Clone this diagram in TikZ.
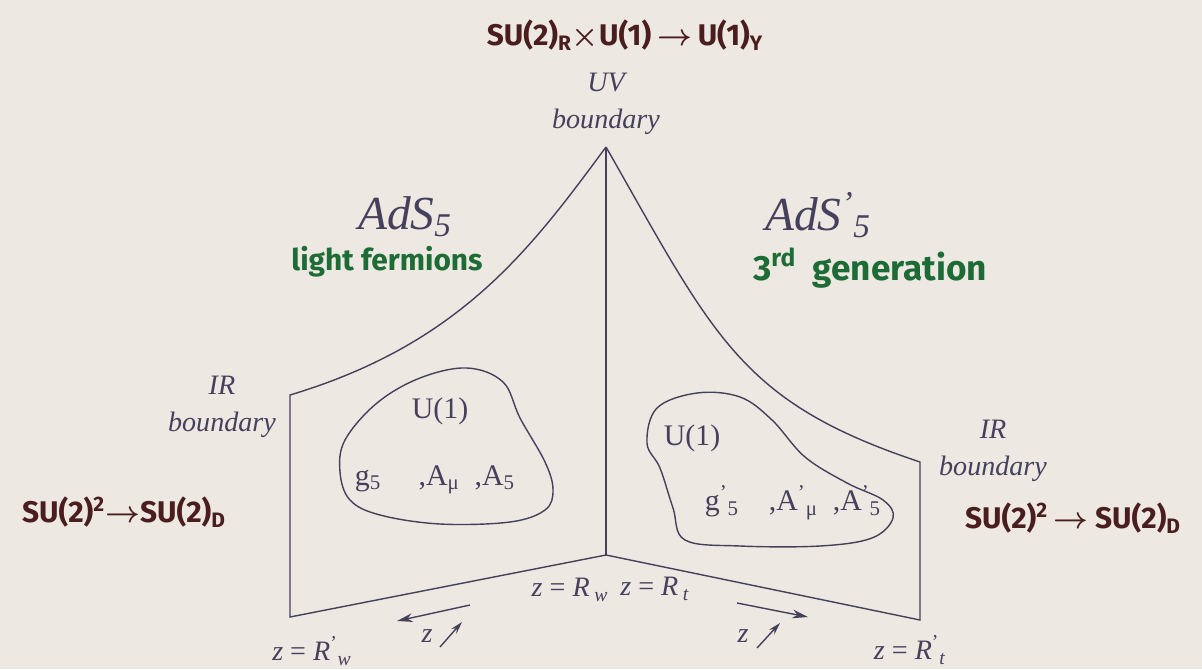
\documentclass[tikz,border=0pt]{standalone}
\usepackage{fontspec}
\setmainfont{Liberation Serif}
\newfontfamily\hand{Fira Sans}
\usetikzlibrary{arrows.meta}
\definecolor{paper}{HTML}{EEE8E2}
\definecolor{ink}{HTML}{45415C}
\definecolor{brownink}{HTML}{4A1E1E}
\definecolor{greenink}{HTML}{1D6B35}
\newcommand{\sub}[1]{\textsubscript{#1}}
\newcommand{\primesub}[1]{\textsuperscript{’}\textsubscript{#1}}
\tikzset{
  printed/.style={text=ink, inner sep=1pt, font=\fontsize{16}{18}\selectfont},
  scrawl/.style={text=brownink, inner sep=1pt, font=\hand\bfseries\boldmath\fontsize{17}{19}\selectfont},
  greenscrawl/.style={text=greenink, inner sep=1pt, font=\hand\bfseries\fontsize{16}{18}\selectfont},
}
\begin{document}
\begin{tikzpicture}[x=0.02cm, y=-0.02cm, line width=0.8pt, draw=ink]
        \useasboundingbox[fill=paper] (0,0) rectangle (1202,669);

        % Corners of the two slices
        \coordinate (uv) at (606,147);
        \coordinate (mid) at (606,555);
        \coordinate (irlt) at (290,395);
        \coordinate (irlb) at (290,617);
        \coordinate (irrt) at (920,462);
        \coordinate (irrb) at (920,620);

        % Left slice (AdS5)
        \draw[ink] (uv) .. controls (530,250) and (460,344) .. (irlt) -- (irlb) -- (mid);
        % Right slice (AdS5')
        \draw[ink] (uv) .. controls (715,338) and (740,402) .. (irrt) -- (irrb) -- (mid);
        % Shared UV line
        \draw[ink] (uv) -- (mid);

        % Blobs
        \draw[ink] plot[smooth cycle, tension=0.6] coordinates {(345,440) (377,403) (420,378) (467,368) (503,382) (520,418) (545,462) (553,490) (545,510) (510,522) (440,524) (380,515) (350,500) (340,472)};
        \draw[ink] plot[smooth cycle, tension=0.6] coordinates {(647,443) (657,408) (697,393) (740,397) (772,420) (805,457) (847,483) (883,500) (893,518) (872,538) (820,546) (740,546) (685,540) (673,508) (660,468)};

        % Boundary labels
        \node[printed, font=\itshape\fontsize{16}{18}\selectfont, align=center] (uvlab) at (606,104) {UV\\[3pt]boundary};
        \node[printed, font=\itshape\fontsize{16}{18}\selectfont, align=center] (irleft) at (222,407) {IR\\[3pt]boundary};
        \node[printed, font=\itshape\fontsize{16}{18}\selectfont, align=center] (irright) at (993,451) {IR\\[3pt]boundary};

        % Space labels
        \node[printed, font=\itshape\fontsize{27}{30}\selectfont] (adsl) at (405,217) {AdS\sub{5}};
        \node[printed, font=\itshape\fontsize{27}{30}\selectfont] (adsr) at (818,215) {AdS\primesub{5}};
        \node[greenscrawl, font=\hand\bfseries\fontsize{17}{19}\selectfont] (light) at (387,262) {light fermions};
        \node[greenscrawl, font=\hand\bfseries\fontsize{20}{22}\selectfont] (third) at (870,268) {3\textsuperscript{rd}\ \ generation};

        % Blob contents
        \node[printed, font=\fontsize{17}{19}\selectfont] (u1l) at (440,411) {U(1)};
        \node[printed, font=\fontsize{17}{19}\selectfont] (fieldsl) at (435,480) {g\sub{5}\quad\ ,A\sub{μ}\ \ ,A\sub{5}};
        \node[printed, font=\fontsize{17}{19}\selectfont] (u1r) at (692,438) {U(1)};
        \node[printed, font=\fontsize{17}{19}\selectfont] (fieldsr) at (793,503) {g\primesub{5}\quad ,A\primesub{μ}\ \ ,A\primesub{5}};

        % Symmetry breaking
        \node[scrawl] (topbreak) at (625,35) {SU(2)\sub{R}$\times$U(1)$\,\rightarrow\,$U(1)\sub{Y}};
        \node[scrawl] (leftbreak) at (124,512) {SU(2)\textsuperscript{2}$\rightarrow$SU(2)\sub{D}};
        \node[scrawl] (rightbreak) at (1073,518) {SU(2)\textsuperscript{2}\,$\rightarrow$ SU(2)\sub{D}};

        % Positions along z
        \node[printed] (zrw) at (570,590) {\textit{z} = \textit{R}\,\sub{\textit{w}}};
        \node[printed] (zrt) at (655,589) {\textit{z} = \textit{R}\,\sub{\textit{t}}};
        \node[printed] (zrwp) at (312,651) {\textit{z} = \textit{R}\primesub{\textit{w}}};
        \node[printed] (zrtp) at (910,650) {\textit{z} = \textit{R}\primesub{\textit{t}}};

        % z grows towards the IR
        \coordinate (la1) at (470,605);
        \coordinate (la2) at (397,621);
        \coordinate (ra1) at (737,603);
        \coordinate (ra2) at (808,617);
        \draw[ink, -{Stealth[length=9pt, width=5pt]}] (la1) -- (la2);
        \draw[ink, -{Stealth[length=9pt, width=5pt]}] (ra1) -- (ra2);
        \node[printed, font=\itshape\fontsize{16}{18}\selectfont] (zl) at (427,636) {z};
        \node[printed, font=\itshape\fontsize{16}{18}\selectfont] (zr) at (743,636) {z};
        \coordinate (sl1) at (440,647);
        \coordinate (sl2) at (462,622);
        \coordinate (sr1) at (757,648);
        \coordinate (sr2) at (780,623);
        \draw[ink, -{Stealth[length=7pt, width=4pt]}] (sl1) -- (sl2);
        \draw[ink, -{Stealth[length=7pt, width=4pt]}] (sr1) -- (sr2);
    \end{tikzpicture}
\end{document}
